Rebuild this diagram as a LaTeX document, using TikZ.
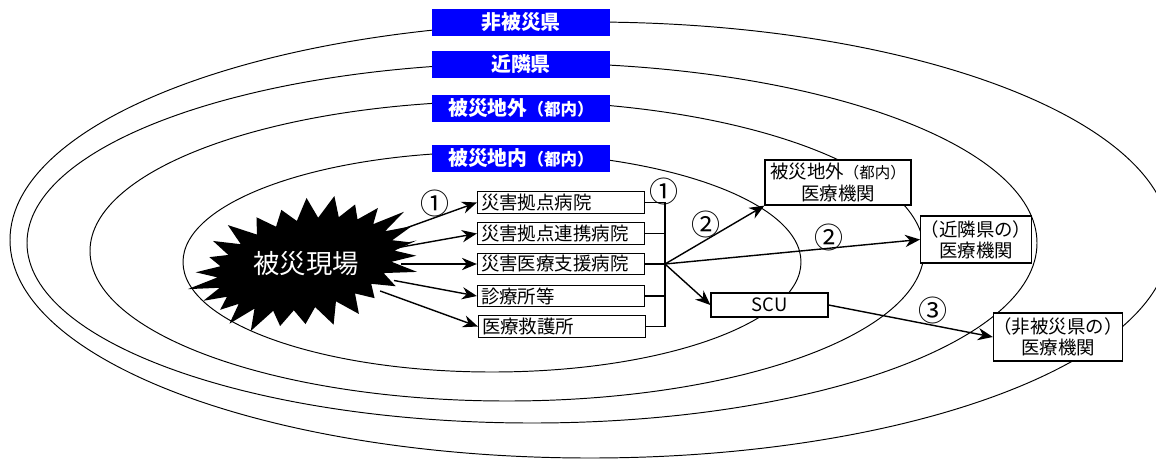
\documentclass[tikz,border=0pt]{standalone}
\usepackage{fontspec}
\setmainfont{Noto Sans CJK JP}
\usetikzlibrary{arrows.meta,shapes.geometric}

\tikzset{
  zone/.style={draw=black, line width=0.55pt},
  zonelabel/.style={fill=blue, text=white, font=\fontsize{11.3}{13}\selectfont\bfseries, minimum width=3.56cm, minimum height=0.54cm, inner sep=0pt},
  hospbox/.style={draw, fill=white, line width=0.7pt, text width=3.2cm, inner xsep=2pt, inner ysep=0pt, minimum height=0.43cm, align=left, font=\fontsize{10.5}{12}\selectfont},
  instbox/.style={draw, fill=white, line width=0.7pt, align=center, inner sep=0pt, font=\fontsize{10.5}{12}\selectfont},
  route/.style={-{Stealth[length=8.5pt,width=7pt]}, line width=0.8pt},
  bus/.style={line width=0.7pt},
  num/.style={font=\fontsize{16.5}{18}\selectfont, inner sep=0pt},
}

\begin{document}
\begin{tikzpicture}[x=0.02cm, y=-0.02cm]
  \useasboundingbox (0,0) rectangle (1156,461);

  % zones
  \begin{scope}
    \clip (0,0) rectangle (1156,461);
    \draw[zone] (590,240) ellipse (580 and 218);
    \draw[zone] (532,243) ellipse (505 and 180);
    \draw[zone] (507,251) ellipse (417 and 150);
    \draw[zone] (492,262) ellipse (309 and 110);
  \end{scope}
  \node[zonelabel] (lbl1) at (521,22.5) {非被災県};
  \node[zonelabel] (lbl2) at (521,64) {近隣県};
  \node[zonelabel] (lbl3) at (521,108) {被災地外{\fontsize{9.4}{10}\selectfont（都内）}};
  \node[zonelabel] (lbl4) at (521,158) {被災地内{\fontsize{9.4}{10}\selectfont（都内）}};

  % disaster site
  \coordinate (sitec) at (306,264);
  \fill[black, shift={(sitec)}, rotate=12] (0:113 and 62)
    \foreach \i in {0,...,25} {-- ({\i*13.846+6.92}:90 and 44)
      -- ({(\i+1)*13.846}:{113*(1+0.07*sin(\i*97))} and {62*(1+0.07*sin(\i*97))})} -- cycle;
  \node[ellipse, minimum width=3.8cm, minimum height=1.7cm, inner sep=0pt, text=white, font=\fontsize{15}{17}\selectfont] (site) at (sitec) {被災現場};

  % hospitals in the area
  \node[hospbox] (hb1) at (561,202.5) {災害拠点病院};
  \node[hospbox] (hb2) at (561,233.5) {災害拠点連携病院};
  \node[hospbox] (hb3) at (561,264) {災害医療支援病院};
  \node[hospbox] (hb4) at (561,296) {診療所等};
  \node[hospbox] (hb5) at (562,326.5) {医療救護所};

  \coordinate (busx) at (665,0);
  \draw[bus] (hb1.east) -- (hb1.east -| busx) -- (hb5.east -| busx) -- (hb5.east);
  \foreach \b in {hb2,hb3,hb4}
    \draw[bus] (\b.east) -- (\b.east -| busx);
  \coordinate (hub) at (hb3.east -| busx);

  % receiving institutions
  \node[instbox, minimum width=2.92cm, minimum height=0.9cm] (tokyo) at (838,182.5) {被災地外{\fontsize{8.8}{10}\selectfont（都内）}\\医療機関};
  \node[instbox, minimum width=2.04cm, minimum height=0.94cm] (near) at (976,239.5) {（近隣県の）\\医療機関};
  \node[instbox, minimum width=2.4cm, minimum height=0.96cm] (far) at (1058,337) {（非被災県の）\\医療機関};
  \node[instbox, minimum width=2.34cm, minimum height=0.48cm] (scu) at (769.5,305) {SCU};

  % routes
  \foreach \b in {hb1,hb2,hb3,hb4,hb5}
    \draw[route] (site) -- (\b.west);
  \draw[route] (hub) -- (tokyo.south west);
  \draw[route] (hub) -- (near.west);
  \draw[route] (hub) -- (scu.west);
  \draw[route] (scu.east) -- (far.west);

  \node[num] (r1a) at (435,203) {①};
  \node[num] (r1b) at (664,191) {①};
  \node[num] (r2a) at (706,224) {②};
  \node[num] (r2b) at (829,237) {②};
  \node[num] (r3) at (933,310) {③};
\end{tikzpicture}
\end{document}
